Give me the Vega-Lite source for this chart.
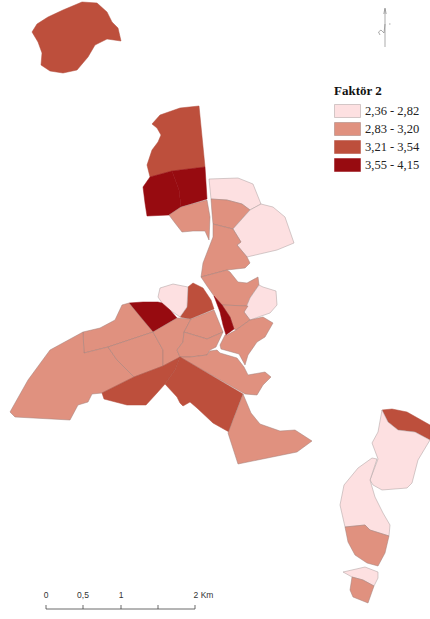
{"$schema":"https://vega.github.io/schema/vega-lite/v6.json","width":430,"height":619,"padding":0,"autosize":{"type":"none"},"background":"white","view":{"stroke":null},"projection":{"type":"identity","scale":1,"translate":[0,0]},"datasets":{"regions":[
{"type":"Feature","properties":{"id":"A","klass":"3,21 - 3,54"},"geometry":{"type":"Polygon","coordinates":[[[32,32],[37,24],[48,17],[63,10],[82,2],[97,3],[107,12],[112,22],[118,28],[121,41],[107,39],[95,45],[88,57],[77,70],[63,73],[50,71],[41,65],[42,53],[38,42],[32,32]]]}},
{"type":"Feature","properties":{"id":"B","klass":"3,21 - 3,54"},"geometry":{"type":"Polygon","coordinates":[[[152,124],[160,115],[180,108],[199,106],[205,167],[172,171],[150,177],[147,165],[152,150],[158,142],[161,135],[157,128],[152,124]]]}},
{"type":"Feature","properties":{"id":"C","klass":"3,55 - 4,15"},"geometry":{"type":"Polygon","coordinates":[[[172,171],[150,177],[143,187],[145,203],[147,216],[169,215],[181,207],[179,190],[172,171]]]}},
{"type":"Feature","properties":{"id":"D","klass":"3,55 - 4,15"},"geometry":{"type":"Polygon","coordinates":[[[172,171],[205,167],[207,199],[181,207],[179,190],[172,171]]]}},
{"type":"Feature","properties":{"id":"E","klass":"2,83 - 3,20"},"geometry":{"type":"Polygon","coordinates":[[[169,215],[181,207],[207,200],[210,217],[209,240],[205,231],[193,231],[182,232],[175,223],[169,215]]]}},
{"type":"Feature","properties":{"id":"F","klass":"2,36 - 2,82"},"geometry":{"type":"Polygon","coordinates":[[[209,179],[238,178],[253,184],[261,204],[250,210],[242,204],[227,200],[211,199],[209,179]]]}},
{"type":"Feature","properties":{"id":"G","klass":"2,83 - 3,20"},"geometry":{"type":"Polygon","coordinates":[[[211,199],[227,200],[242,204],[250,210],[233,229],[213,224],[212,213],[211,199]]]}},
{"type":"Feature","properties":{"id":"H","klass":"2,36 - 2,82"},"geometry":{"type":"Polygon","coordinates":[[[261,204],[273,207],[285,217],[294,243],[277,250],[247,257],[237,245],[241,242],[233,229],[250,210],[261,204]]]}},
{"type":"Feature","properties":{"id":"I","klass":"2,83 - 3,20"},"geometry":{"type":"Polygon","coordinates":[[[213,224],[233,229],[241,242],[237,245],[247,257],[250,263],[245,268],[227,270],[201,277],[203,263],[208,250],[213,237],[213,224]]]}},
{"type":"Feature","properties":{"id":"J","klass":"2,83 - 3,20"},"geometry":{"type":"Polygon","coordinates":[[[201,277],[227,270],[230,272],[238,282],[247,283],[258,277],[259,285],[250,298],[248,306],[222,305],[214,296],[207,286],[201,277]]]}},
{"type":"Feature","properties":{"id":"K","klass":"2,36 - 2,82"},"geometry":{"type":"Polygon","coordinates":[[[263,287],[276,291],[277,305],[270,313],[250,320],[244,312],[250,298],[259,285],[263,287]]]}},
{"type":"Feature","properties":{"id":"L","klass":"2,83 - 3,20"},"geometry":{"type":"Polygon","coordinates":[[[222,305],[248,306],[244,312],[250,320],[236,330],[234,329],[230,317],[222,305]]]}},
{"type":"Feature","properties":{"id":"M","klass":"3,55 - 4,15"},"geometry":{"type":"Polygon","coordinates":[[[214,296],[222,305],[230,317],[234,329],[226,335],[223,325],[220,312],[214,296]]]}},
{"type":"Feature","properties":{"id":"N","klass":"3,21 - 3,54"},"geometry":{"type":"Polygon","coordinates":[[[188,287],[193,283],[203,288],[211,300],[214,309],[190,319],[180,317],[187,307],[188,287]]]}},
{"type":"Feature","properties":{"id":"O","klass":"2,36 - 2,82"},"geometry":{"type":"Polygon","coordinates":[[[160,288],[173,284],[188,287],[187,307],[180,317],[170,310],[162,303],[158,297],[160,288]]]}},
{"type":"Feature","properties":{"id":"P","klass":"3,55 - 4,15"},"geometry":{"type":"Polygon","coordinates":[[[129,303],[143,302],[158,302],[162,303],[170,310],[177,318],[153,332],[142,320],[129,303]]]}},
{"type":"Feature","properties":{"id":"Q","klass":"2,83 - 3,20"},"geometry":{"type":"Polygon","coordinates":[[[83,332],[100,328],[115,320],[122,305],[129,303],[153,332],[108,347],[84,353],[83,332]]]}},
{"type":"Feature","properties":{"id":"R","klass":"2,83 - 3,20"},"geometry":{"type":"Polygon","coordinates":[[[83,332],[84,353],[108,347],[117,360],[134,377],[102,393],[92,394],[88,402],[78,405],[70,420],[15,417],[10,412],[28,380],[50,350],[83,332]]]}},
{"type":"Feature","properties":{"id":"S","klass":"2,83 - 3,20"},"geometry":{"type":"Polygon","coordinates":[[[108,347],[153,332],[163,350],[163,366],[134,377],[117,360],[108,347]]]}},
{"type":"Feature","properties":{"id":"T","klass":"2,83 - 3,20"},"geometry":{"type":"Polygon","coordinates":[[[153,332],[177,318],[191,319],[184,332],[183,342],[177,350],[180,357],[163,366],[163,350],[153,332]]]}},
{"type":"Feature","properties":{"id":"U","klass":"2,83 - 3,20"},"geometry":{"type":"Polygon","coordinates":[[[191,319],[214,310],[223,332],[207,339],[184,332],[191,319]]]}},
{"type":"Feature","properties":{"id":"V","klass":"2,83 - 3,20"},"geometry":{"type":"Polygon","coordinates":[[[184,332],[207,339],[223,332],[216,347],[210,350],[207,355],[190,357],[180,357],[177,350],[183,342],[184,332]]]}},
{"type":"Feature","properties":{"id":"W","klass":"2,83 - 3,20"},"geometry":{"type":"Polygon","coordinates":[[[236,330],[250,320],[263,317],[273,323],[265,337],[257,342],[248,355],[245,365],[239,354],[221,349],[220,345],[225,335],[227,335],[236,330]]]}},
{"type":"Feature","properties":{"id":"X","klass":"2,83 - 3,20"},"geometry":{"type":"Polygon","coordinates":[[[180,357],[190,357],[207,355],[210,351],[217,350],[220,353],[237,358],[244,367],[248,375],[265,372],[271,377],[263,385],[257,395],[245,394],[180,357]]]}},
{"type":"Feature","properties":{"id":"Y","klass":"3,21 - 3,54"},"geometry":{"type":"Polygon","coordinates":[[[180,357],[163,366],[134,377],[102,393],[104,399],[127,405],[146,405],[157,393],[165,384],[175,370],[180,357]]]}},
{"type":"Feature","properties":{"id":"Z","klass":"3,21 - 3,54"},"geometry":{"type":"Polygon","coordinates":[[[180,357],[243,394],[233,420],[229,432],[213,423],[197,408],[190,402],[183,406],[180,403],[177,397],[165,384],[175,370],[180,357]]]}},
{"type":"Feature","properties":{"id":"AA","klass":"2,83 - 3,20"},"geometry":{"type":"Polygon","coordinates":[[[243,394],[251,413],[260,424],[280,431],[295,430],[312,441],[297,452],[238,464],[228,433],[233,420],[243,394]]]}},
{"type":"Feature","properties":{"id":"BB","klass":"3,21 - 3,54"},"geometry":{"type":"Polygon","coordinates":[[[382,410],[392,409],[407,412],[430,425],[430,440],[415,432],[398,430],[388,422],[382,410]]]}},
{"type":"Feature","properties":{"id":"CC","klass":"2,36 - 2,82"},"geometry":{"type":"Polygon","coordinates":[[[382,410],[388,422],[398,430],[415,432],[430,440],[418,460],[412,483],[407,488],[382,490],[373,485],[370,480],[378,459],[372,443],[378,432],[382,410]]]}},
{"type":"Feature","properties":{"id":"DD","klass":"2,36 - 2,82"},"geometry":{"type":"Polygon","coordinates":[[[372,458],[377,459],[370,480],[375,497],[383,513],[390,525],[389,536],[370,530],[365,525],[345,527],[340,505],[344,485],[358,468],[372,458]]]}},
{"type":"Feature","properties":{"id":"EE","klass":"2,83 - 3,20"},"geometry":{"type":"Polygon","coordinates":[[[345,527],[365,525],[370,530],[389,536],[385,553],[378,566],[367,563],[355,555],[348,542],[345,527]]]}},
{"type":"Feature","properties":{"id":"FF","klass":"2,36 - 2,82"},"geometry":{"type":"Polygon","coordinates":[[[343,572],[365,567],[378,572],[378,578],[374,586],[363,580],[352,577],[343,572]]]}},
{"type":"Feature","properties":{"id":"GG","klass":"2,83 - 3,20"},"geometry":{"type":"Polygon","coordinates":[[[352,577],[363,580],[374,586],[368,603],[353,597],[350,590],[352,577]]]}}
],
"furniture":[
{"type":"Feature","properties":{"id":"scale"},"geometry":{"type":"MultiLineString","coordinates":[[[46,605],[46,609],[195,609],[195,605]],[[83,605],[83,609]],[[121,605],[121,609]],[[158,605],[158,609]]]}}
],
"north":[
{"type":"Feature","properties":{"id":"north"},"geometry":{"type":"MultiLineString","coordinates":[[[385,47],[385,9]],[[383.8,14],[385,8],[386.2,14]],[[380,35],[378.5,32],[381,30],[384,33],[385,24]],[[389,24],[390.5,24]]]}}
],
"labels":[{"t":"0","lon":46,"lat":595},{"t":"0,5","lon":83,"lat":595},{"t":"1","lon":121,"lat":595},{"t":"2 Km","lon":203.5,"lat":595}]},
"layer":[
{"data":{"name":"regions"},"mark":{"type":"geoshape","strokeWidth":0.5},"encoding":{"color":{"field":"properties.klass","type":"nominal","scale":{"domain":["2,36 - 2,82","2,83 - 3,20","3,21 - 3,54","3,55 - 4,15"],"range":["#fde0e1","#e0917f","#bd4f3c","#970b10"]},"legend":{"orient":"none","legendX":334,"legendY":85,"padding":0,"title":"Faktör 2","titleFont":"Liberation Serif","titleFontSize":13,"titleFontWeight":"bold","titleColor":"#111","titlePadding":4,"symbolType":"M-1,-0.5H1V0.5H-1Z","symbolSize":676,"symbolStrokeColor":"#d8c8c8","symbolStrokeWidth":0.5,"labelFont":"Liberation Serif","labelFontSize":12.5,"labelColor":"#222","labelOffset":4,"rowPadding":0,"clipHeight":18}},"stroke":{"field":"properties.klass","type":"nominal","legend":null,"scale":{"domain":["2,36 - 2,82","2,83 - 3,20","3,21 - 3,54","3,55 - 4,15"],"range":["#a89c9c","#a07f78","#b04a3a","#970b10"]}}}},
{"data":{"name":"furniture"},"mark":{"type":"geoshape","filled":false,"stroke":"#444","strokeWidth":0.8},"encoding":{}},
{"data":{"name":"north"},"mark":{"type":"geoshape","filled":false,"stroke":"#888","strokeWidth":0.7},"encoding":{}},
{"data":{"name":"labels"},"mark":{"type":"text","font":"Liberation Sans","fontSize":8.5,"color":"#333","align":"center","baseline":"middle"},"encoding":{"longitude":{"field":"lon","type":"quantitative"},"latitude":{"field":"lat","type":"quantitative"},"text":{"field":"t","type":"nominal"}}}
]}
